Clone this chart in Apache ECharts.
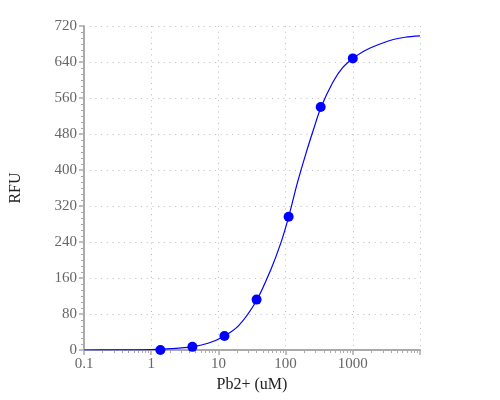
<!DOCTYPE html>
<html>
<head>
<meta charset="utf-8">
<script src="https://cdn.jsdelivr.net/npm/echarts@6/dist/echarts.min.js"></script>
<style>html,body{margin:0;padding:0;background:#fff}#c{width:500px;height:400px}</style>
</head>
<body>
<div id="c"></div>
<script>
// Measured points
const pointX = [1.37, 4.1, 12.3, 37, 111, 333, 1000];
const pointY = [0, 7, 31, 112, 296, 540, 648];
// Fitted curve
const curveX = [0.1, 0.3, 1, 2, 4, 7, 12, 20, 37, 60, 85, 111, 150, 200, 260, 333, 500, 700, 1000, 1500, 2000, 3000, 4000, 6000, 10000];
const curveY = [0, 0.2, 1, 3, 7, 15, 30, 54, 110, 178, 238, 296, 372, 436, 490, 538, 594, 627, 648, 665, 674, 684, 690, 695, 698];
// Tick labels
const xTickLabels = ['0.1', '1', '10', '100', '1000'];
const yTicks = [0, 80, 160, 240, 320, 400, 480, 560, 640, 720];

const font = 'Liberation Serif, Times New Roman, serif';
const chart = echarts.init(document.getElementById('c'), null, {renderer: 'canvas'});
const gridLine = {show: true, lineStyle: {color: '#bbb', width: 1, type: [1, 4.7]}};
chart.setOption({
  animation: false,
  grid: {left: 80, right: 80, top: 26, bottom: 50, containLabel: false},
  xAxis: {
    type: 'log', logBase: 10, min: 0.1, max: 10000,
    name: 'Pb2+ (uM)', nameLocation: 'middle', nameGap: 26,
    nameTextStyle: {fontFamily: font, fontSize: 16, color: '#222'},
    axisLine: {show: true, lineStyle: {color: '#aaa', width: 2}},
    axisTick: {show: true, length: 5, lineStyle: {color: '#aaa', width: 1.5}},
    minorTick: {show: true, splitNumber: 10, length: 3, lineStyle: {color: '#aaa'}},
    axisLabel: {
      fontFamily: font, fontSize: 15, color: '#666', margin: 7,
      formatter: function (v) {
        const i = Math.round(Math.log10(v)) + 1;
        return (i >= 0 && i < xTickLabels.length) ? xTickLabels[i] : '';
      }
    },
    splitLine: gridLine
  },
  yAxis: {
    type: 'value', min: 0, max: 720, interval: 80,
    name: 'RFU', nameLocation: 'middle', nameGap: 60, nameRotate: 90,
    nameTextStyle: {fontFamily: font, fontSize: 16, color: '#222'},
    axisLine: {show: true, lineStyle: {color: '#aaa', width: 2}},
    axisTick: {show: true, length: 5, lineStyle: {color: '#aaa', width: 1.5}},
    minorTick: {show: true, splitNumber: 6, length: 3, lineStyle: {color: '#aaa'}},
    axisLabel: {
      fontFamily: font, fontSize: 15, color: '#666', margin: 7,
      formatter: function (v) { return yTicks.indexOf(v) >= 0 ? String(v) : ''; }
    },
    splitLine: gridLine
  },
  series: [
    {
      type: 'line', data: curveX.map((x, i) => [x, curveY[i]]),
      smooth: 0.3, showSymbol: false, symbol: 'none',
      lineStyle: {color: '#0000ff', width: 1.2}, z: 2
    },
    {
      type: 'scatter', data: pointX.map((x, i) => [x, pointY[i]]),
      symbolSize: 10, itemStyle: {color: '#0000ff', opacity: 1}, z: 3
    }
  ]
});
</script>
</body>
</html>
